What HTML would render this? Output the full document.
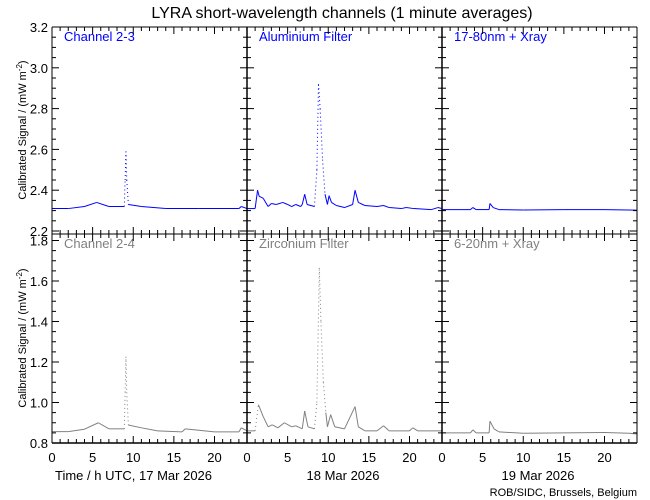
<!DOCTYPE html>
<html><head><meta charset="utf-8"><style>
body{margin:0;background:#fff;}
svg{display:block;font-family:"Liberation Sans",sans-serif;}
</style></head><body>
<svg id="c" width="650" height="500">
<text x="342" y="18" font-size="16" text-anchor="middle">LYRA short-wavelength channels (1 minute averages)</text>
<text x="26" y="130" font-size="11" text-anchor="middle" transform="rotate(-90 26 130)">Calibrated Signal / (mW m<tspan dy="-4" font-size="8">-2</tspan><tspan dy="4">)</tspan></text>
<text x="26" y="338" font-size="11" text-anchor="middle" transform="rotate(-90 26 338)">Calibrated Signal / (mW m<tspan dy="-4" font-size="8">-2</tspan><tspan dy="4">)</tspan></text>
<text x="55" y="480" font-size="13">Time / h UTC, 17 Mar 2026</text>
<text x="343" y="480" font-size="13" text-anchor="middle">18 Mar 2026</text>
<text x="538" y="480" font-size="13" text-anchor="middle">19 Mar 2026</text>
<text x="637" y="496" font-size="11" text-anchor="end">ROB/SIDC, Brussels, Belgium</text>
</svg>
<script>
const topTicks=["2.2","2.4","2.6","2.8","3.0","3.2"];
const botTicks=["0.8","1.0","1.2","1.4","1.6","1.8"];
const hourTicks=["0","5","10","15","20"];
const panelLabels=["Channel 2-3","Aluminium Filter","17-80nm + Xray","Channel 2-4","Zirconium Filter","6-20nm + Xray"];
const h1=[0,2,4,5.5,7,8.9,9.0,9.1,9.2,9.4,11,14,18,23,23.3,24];
const v1=[2.31,2.31,2.32,2.34,2.32,2.32,2.45,2.59,2.45,2.33,2.32,2.31,2.31,2.31,2.32,2.31];
const h2=[0,1,1.3,1.5,2,2.6,3,3.6,4.4,5,5.5,6,6.6,6.8,7.1,7.4,8.3,8.6,8.8,9.0,9.3,9.6,9.9,10.1,10.4,11,12,13,13.3,13.7,14.5,16,16.8,17.5,19,19.6,20.5,22.7,23.5,24];
const v2=[2.31,2.31,2.40,2.37,2.36,2.32,2.335,2.33,2.34,2.33,2.32,2.33,2.32,2.33,2.38,2.33,2.32,2.5,2.92,2.8,2.55,2.38,2.33,2.373,2.34,2.325,2.315,2.33,2.40,2.34,2.325,2.32,2.325,2.315,2.31,2.315,2.31,2.305,2.315,2.31];
const h3=[0,3.5,3.8,4.2,5.8,5.9,6.3,7,10,15,20,24];
const v3=[2.305,2.305,2.315,2.305,2.305,2.335,2.315,2.305,2.303,2.305,2.305,2.302];
const h4=[0,2,4,5.7,7,8.9,9.0,9.1,9.2,9.4,11,13,16,16.4,20,23,23.3,24];
const v4=[0.856,0.856,0.868,0.90,0.87,0.87,1.05,1.226,1.05,0.889,0.875,0.86,0.855,0.87,0.855,0.855,0.875,0.86];
const h5=[0,1,1.4,2,2.6,3.1,3.8,4.6,5.5,6,6.8,7.1,7.5,8.3,8.6,8.9,9.1,9.4,9.7,9.9,10.3,10.8,12,13.3,13.7,14.5,16,16.8,17.5,20,20.4,21,23.5,24];
const v5=[0.86,0.86,0.99,0.93,0.88,0.89,0.875,0.90,0.88,0.885,0.87,0.958,0.88,0.87,1.0,1.665,1.4,1.1,0.95,0.88,0.94,0.88,0.87,0.98,0.88,0.86,0.86,0.885,0.86,0.86,0.875,0.86,0.86,0.86];
const h6=[0,3.5,3.8,4.2,5.8,5.9,6.4,7,10,15,20,23,24];
const v6=[0.85,0.85,0.865,0.85,0.85,0.908,0.87,0.855,0.848,0.85,0.852,0.848,0.845];
const svg=document.getElementById('c');const NS='http://www.w3.org/2000/svg';
const colX=[52,247,442],W=195;
const rows=[{y0:27,y1:234,vmin:2.2,sc:204,zero:231,ticks:topTicks},{y0:234,y1:443,vmin:0.8,sc:202.5,zero:443,ticks:botTicks}];
function xs(c,h){return colX[c]+h*W/24;}
function ys(r,v){return rows[r].zero-(v-rows[r].vmin)*rows[r].sc;}
function mk(t,a){const e=document.createElementNS(NS,t);for(const k in a)e.setAttribute(k,a[k]);svg.appendChild(e);return e;}
const series=[[h1,v1],[h2,v2],[h3,v3],[h4,v4],[h5,v5],[h6,v6]];
for(let r=0;r<2;r++)for(let c=0;c<3;c++){
 const R=rows[r],i=r*3+c,col=r?'#808080':'#0000ff';
 const [hs,vs]=series[i];
 const g=mk('g',{fill:'none',stroke:col,'stroke-width':1});
 
 
 for(let k=0;k<hs.length-1;k++){
  const x1=xs(c,hs[k]),y1=ys(r,vs[k]),x2=xs(c,hs[k+1]),y2=ys(r,vs[k+1]);
  const e=document.createElementNS(NS,'line');
  e.setAttribute('x1',x1);e.setAttribute('y1',y1);e.setAttribute('x2',x2);e.setAttribute('y2',y2);
  if(Math.abs(y2-y1)>24)e.setAttribute('stroke-dasharray','1 3');
  g.appendChild(e);
 }
 const lb=mk('text',{x:colX[c]+12,y:R.y0+14,'font-size':13,fill:col});lb.textContent=panelLabels[i];
 
 
}
const fr=mk('g',{stroke:'#000','stroke-width':1,fill:'none'});


function ln(x1,y1,x2,y2,w){const e=document.createElementNS(NS,'line');e.setAttribute('x1',x1);e.setAttribute('y1',y1);e.setAttribute('x2',x2);e.setAttribute('y2',y2);e.setAttribute('stroke-width',w||1);fr.appendChild(e);}
ln(52,27,637,27);ln(52,234,637,234);ln(52,443,637,443,1.5);
[52,247,442,637].forEach(x=>ln(x,27,x,443,x==52||x==637?1:1.5));
for(let r=0;r<2;r++){const R=rows[r];
 for(let k=0;k<=22;k++){const v=R.vmin+k*0.05;const y=ys(r,v);if(y<R.y0-0.5)break;
  const L=k%4==0?7:4;
  [52,247,442,637].forEach(x=>{if(x<637)ln(x,y,x+L,y);if(x>52)ln(x-L,y,x,y);});}
 R.ticks.forEach((t,k)=>{const y=ys(r,R.vmin+k*0.2);const e=mk('text',{x:48,y:y+5,'font-size':13,'text-anchor':'end'});e.textContent=t;
  
  });
}
for(let c=0;c<3;c++){for(let h=0;h<=24;h++){const x=xs(c,h);const L=h%5==0?7:4;
  ln(x,443,x,443-L);ln(x,234-L,x,234+L);ln(x,27,x,27+L);}
 hourTicks.forEach((t,k)=>{const e=mk('text',{x:xs(c,k*5),y:462,'font-size':13,'text-anchor':'middle'});e.textContent=t;
  
  });}
</script>
</body></html>
